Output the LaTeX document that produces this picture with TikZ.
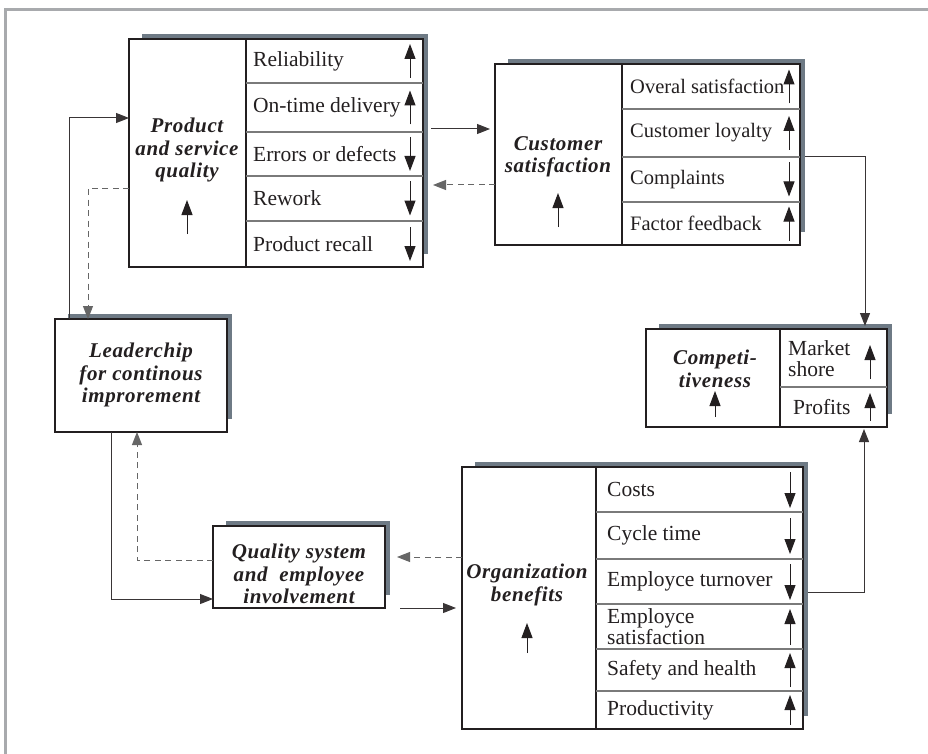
\documentclass[tikz,border=0pt]{standalone}
\usepackage{fontspec}
\setmainfont{Liberation Serif}
\newfontfamily\headfont{Liberation Serif}[LetterSpace=3]
\usetikzlibrary{arrows.meta,calc}
\definecolor{shadowgray}{HTML}{6E7A85}
\definecolor{framegray}{HTML}{A8AAAD}
\definecolor{ink}{HTML}{231F20}
\definecolor{rulegray}{HTML}{7A7A7A}

% panel with a slate drop shadow: name, left, top, width, height
\newcommand{\panelbox}[5]{%
  \fill[shadowgray] ({#2+13},{#3-5}) rectangle ({#2+#4+5},{#3+#5-13});
  \node[panel, minimum width=#4, minimum height=#5] (#1) at (#2,#3) {};}
% short trend arrows: x, row centre, half length
\newcommand{\trendup}[3]{\draw[trend] (#1,{#2+#3}) -- (#1,{#2-#3});}
\newcommand{\trenddown}[3]{\draw[trend] (#1,{#2-#3}) -- (#1,{#2+#3});}

\begin{document}
\begin{tikzpicture}[x=1pt,y=-1pt,
  panel/.style={draw=ink, line width=2.6pt, fill=white, anchor=north west,
    inner sep=0pt, outer sep=0pt},
  rowrule/.style={draw=rulegray, line width=1.1pt},
  split/.style={draw=ink, line width=1.8pt},
  item/.style={anchor=west, inner sep=0pt, text=ink, align=left,
    font=\fontsize{21.5}{21}\selectfont},
  smallitem/.style={item, font=\fontsize{20.5}{21}\selectfont},
  title/.style={inner sep=0pt, text=ink, align=center,
    font=\fontsize{21}{22.5}\headfont\bfseries\itshape},
  trend/.style={draw=ink, line width=1pt, -{Triangle[length=15pt,width=11pt]}},
  link/.style={draw=ink!90, line width=1pt, -{Triangle[length=13pt,width=10pt]}},
  back/.style={link, draw=black!60, dash pattern=on 6pt off 4.5pt}]

\useasboundingbox (0,0) rectangle (928,754);
\fill[white] (0,0) rectangle (928,754);
\draw[framegray, line width=3pt] (5,754) -- (5,10) -- (928,10);

% ---- Product and service quality
\panelbox{psq}{129}{39}{294}{228}
\draw[split] (246,39) -- (246,267);
\foreach \y in {83,132,176,221} \draw[rowrule] (246,\y) -- (423,\y);
\node[title] (psqt) at (187,150) {Product\\and service\\quality};
\trendup{187}{217}{17}
\node[item] (psq1) at (253,61) {Reliability};
\node[item] (psq2) at (253,107.5) {On-time delivery};
\node[item] (psq3) at (253,154) {Errors or defects};
\node[item] (psq4) at (253,198.5) {Rework};
\node[item] (psq5) at (253,244) {Product recall};
\trendup{410}{61}{17}
\trendup{410}{107.5}{17}
\trenddown{410}{154}{17}
\trenddown{410}{198.5}{17}
\trenddown{410}{244}{17}

% ---- Customer satisfaction
\panelbox{cs}{495}{64}{305}{181}
\draw[split] (622,64) -- (622,245);
\foreach \y in {109,157,202} \draw[rowrule] (622,\y) -- (800,\y);
\node[title] (cst) at (558,157) {Customer\\satisfaction};
\trendup{558}{210}{17}
\node[smallitem] (cs1) at (630,86.5) {Overal satisfaction};
\node[smallitem] (cs2) at (630,133) {Customer loyalty};
\node[smallitem] (cs3) at (630,179.5) {Complaints};
\node[smallitem] (cs4) at (630,223.5) {Factor feedback};
\trendup{789}{86.5}{17}
\trendup{789}{133}{17}
\trenddown{789}{179.5}{17}
\trendup{789}{223.5}{17}

% ---- Competitiveness
\panelbox{comp}{646}{329}{241}{98}
\draw[split] (780,329) -- (780,427);
\draw[rowrule] (780,387) -- (887,387);
\node[title] (compt) at (715,369) {Competi-\\tiveness};
\trendup{715}{404}{13}
\node[item] (comp1) at (788,359) {Market\\shore};
\node[item] (comp2) at (793,407) {Profits};
\trendup{870}{362}{17}
\trendup{870}{407}{14}

% ---- Leadership
\panelbox{lead}{55}{319}{172}{113}
\node[title] (leadt) at (141,375) {Leaderchip\\for continous\\improrement};

% ---- Quality system
\panelbox{qs}{213}{526}{172}{82}
\node[title] (qst) at (299,574) {Quality system\\and\ \ employee\\involvement};

% ---- Organization benefits
\panelbox{org}{462}{467}{341}{262}
\draw[split] (596,467) -- (596,729);
\foreach \y in {512,559,604,649,691} \draw[rowrule] (596,\y) -- (803,\y);
\node[title] (orgt) at (527,585) {Organization\\benefits};
\trendup{527}{638}{15}
\node[item] (org1) at (607,489.5) {Costs};
\node[item] (org2) at (607,535.5) {Cycle time};
\node[item] (org3) at (607,581.5) {Employce turnover};
\node[item] (org4) at (607,626.5) {Employce\\satisfaction};
\node[item] (org5) at (607,670) {Safety and health};
\node[item] (org6) at (607,710) {Productivity};
\trenddown{790}{490}{18}
\trenddown{790}{536}{18}
\trenddown{790}{582}{18}
\trendup{790}{627}{18}
\trendup{790}{670}{17}
\trendup{790}{710}{15}

% ---- connectors
\coordinate (k1) at (69,118);
\coordinate (k2) at (88,188);
\coordinate (k3) at (111,599);
\coordinate (k4) at (137,560);
\coordinate (k5) at (397,557);
\coordinate (k6) at (400,608);
\coordinate (k7) at (431,129);
\coordinate (k8) at (433,185);
\coordinate (k9) at (865,157);
\coordinate (k10) at (864,592);

\draw[link] (lead.north -| k1) -- (k1) -- (psq.west |- k1);
\draw[back] (psq.west |- k2) -- (k2) -- (k2 |- lead.north);
\draw[link] (lead.south -| k3) -- (k3) -- (qs.west |- k3);
\draw[back] (qs.west |- k4) -- (k4) -- (k4 |- lead.south);
\draw[back] (org.west |- k5) -- (k5);
\draw[link, shorten >=6pt] (k6) -- (org.west |- k6);
\draw[link, shorten >=5pt] (k7) -- (cs.west |- k7);
\draw[back] (cs.west |- k8) -- (k8);
\draw[link, shorten >=3pt] ([xshift=5pt]cs.east |- k9) -- (k9) -- (k9 |- comp.north);
\draw[link, shorten >=2pt] ([xshift=5pt]org.east |- k10) -- (k10) -- (k10 |- comp.south);
\end{tikzpicture}
\end{document}
